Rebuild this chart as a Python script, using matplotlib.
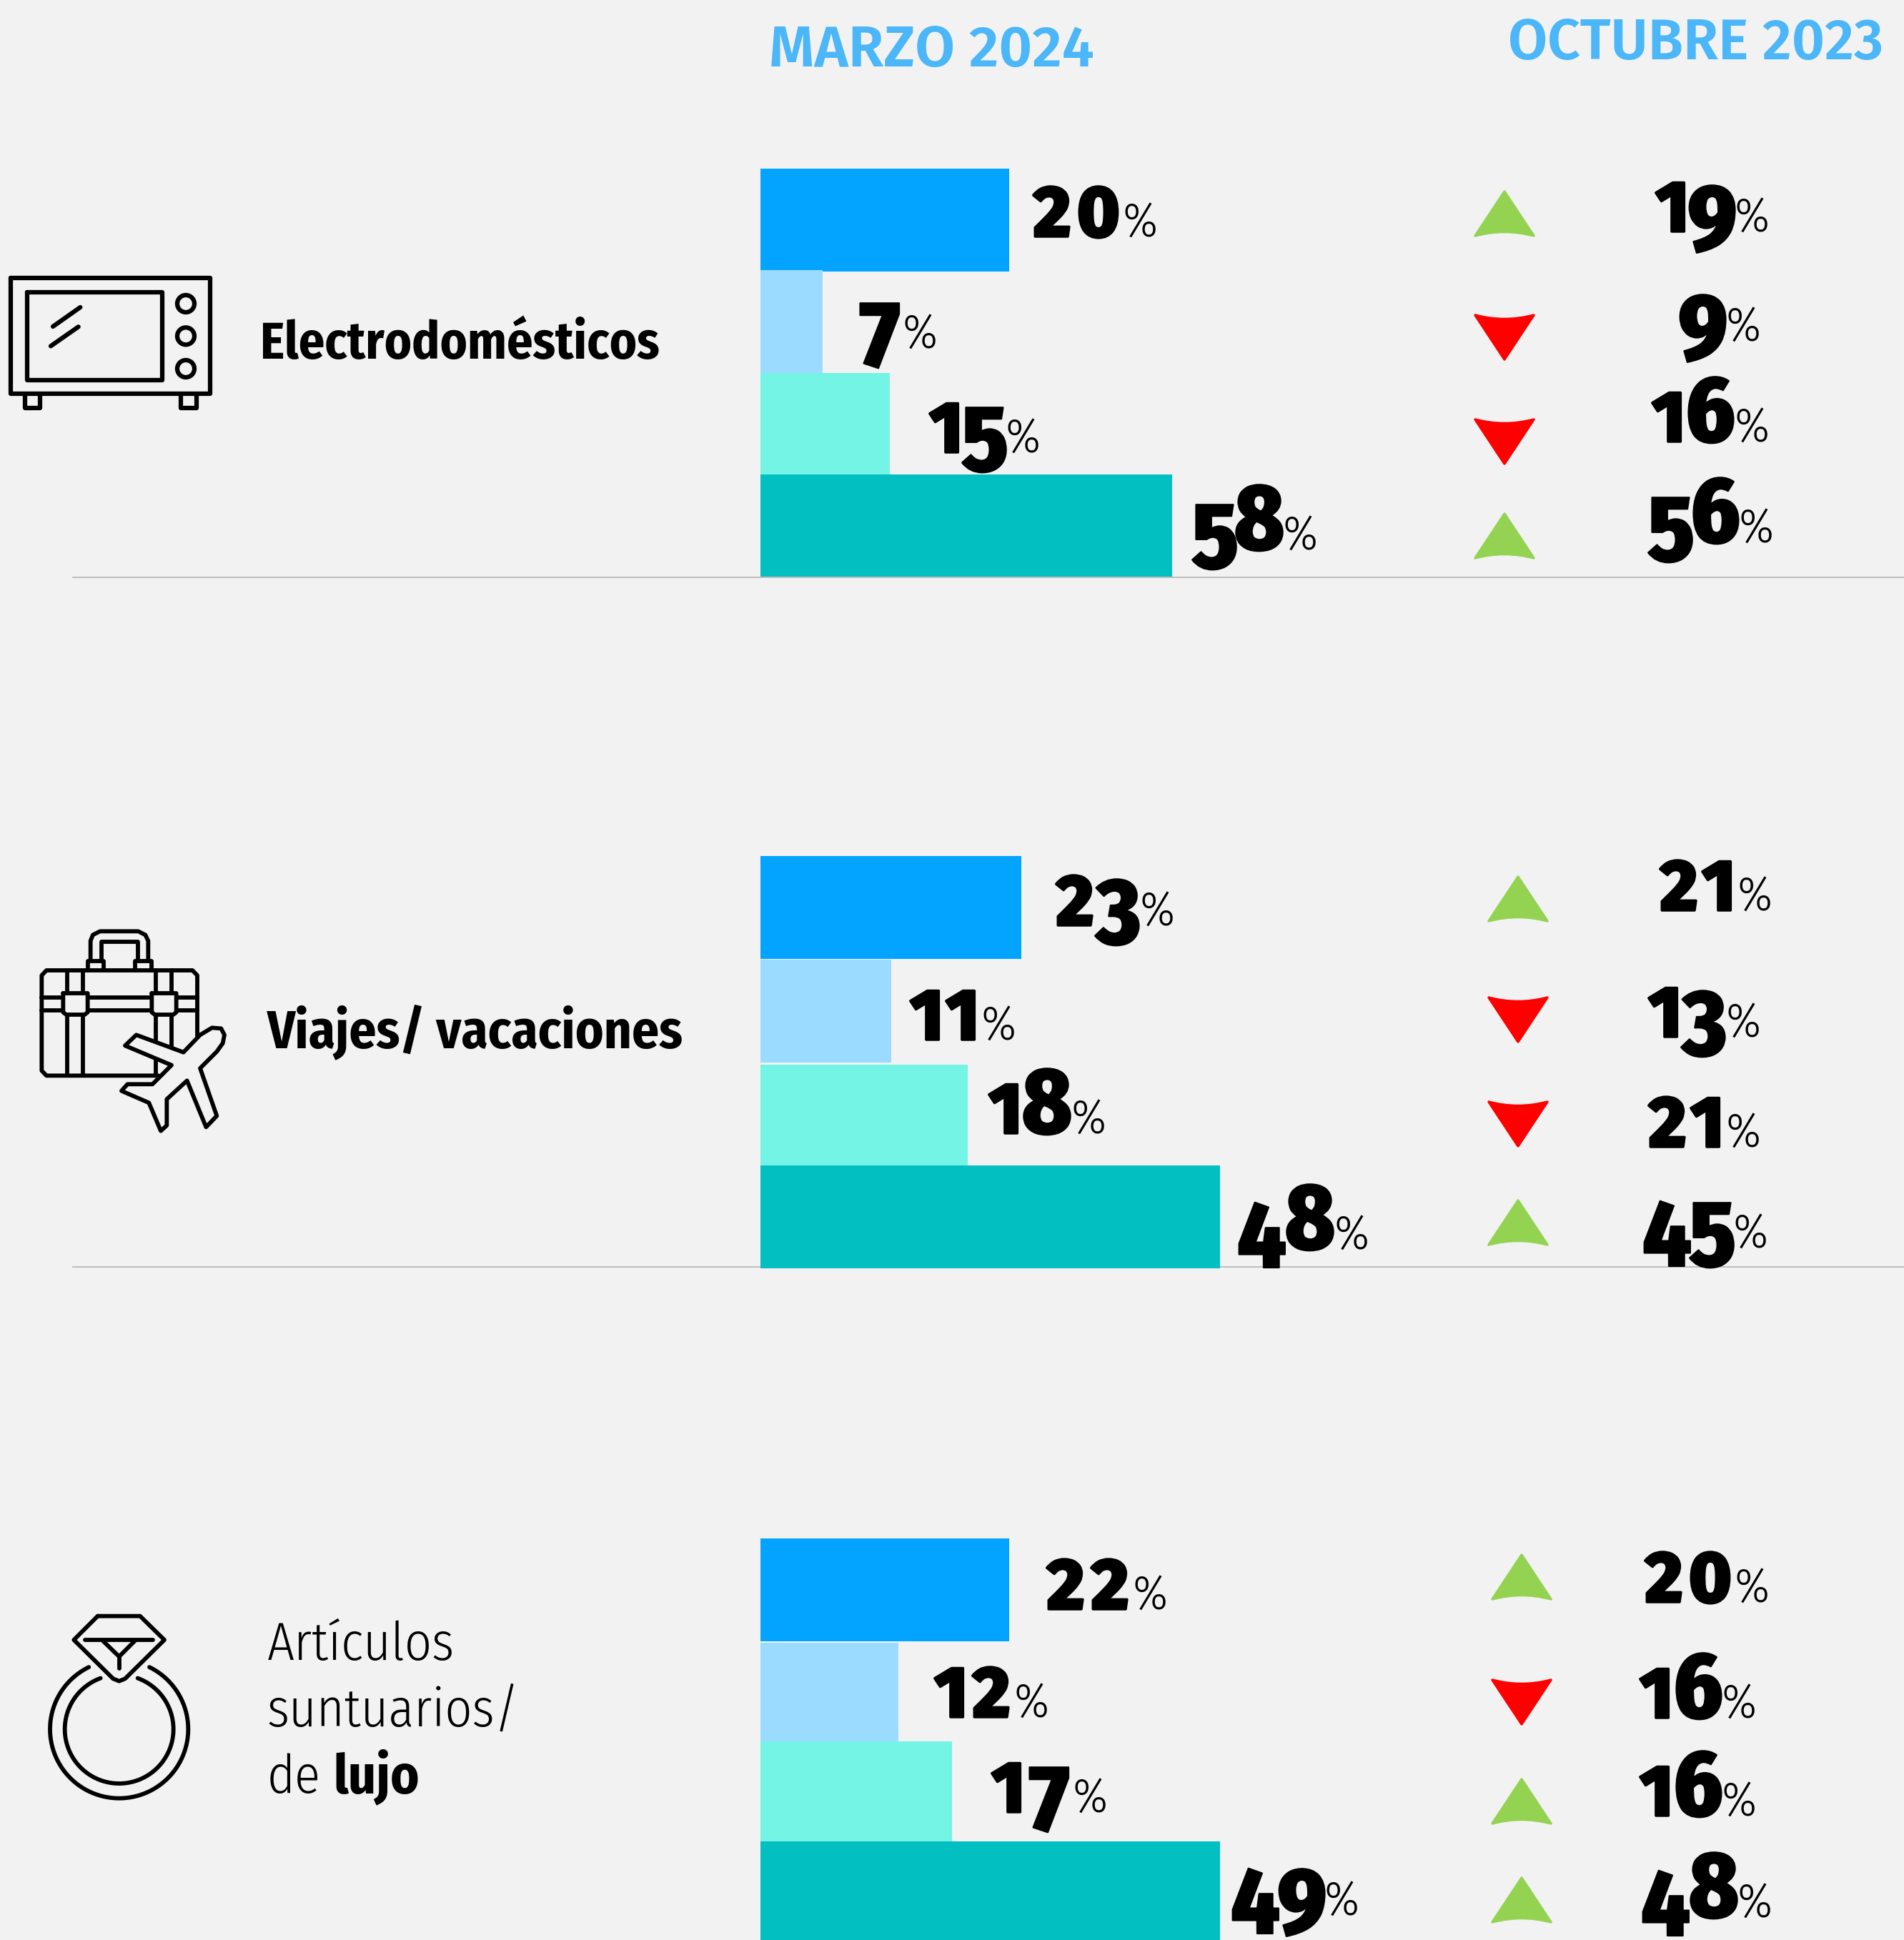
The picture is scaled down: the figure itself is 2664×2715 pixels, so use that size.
import numpy as np
import matplotlib
matplotlib.use('Agg')
import matplotlib.pyplot as plt
import matplotlib.patheffects as pe
import logging
from matplotlib.path import Path
from matplotlib.patches import PathPatch, Polygon, Circle

logging.getLogger('matplotlib.font_manager').setLevel(logging.ERROR)

# valores de las etiquetas (%)
marzo_1 = [20, 7, 15, 58]
octubre_1 = [19, 9, 16, 56]
marzo_2 = [23, 11, 18, 48]
octubre_2 = [21, 13, 21, 45]
marzo_3 = [22, 12, 17, 49]
octubre_3 = [20, 16, 16, 48]

# largo dibujado de cada barra: en el original no es proporcional a la etiqueta,
# asi que se lee aparte de la imagen (1 unidad = 10 px)
largo_1 = [34.8, 8.7, 18.1, 57.6]
largo_2 = [36.5, 18.3, 29.0, 64.3]
largo_3 = [34.8, 19.3, 26.8, 64.3]

COLORES = ['#03A4FF', '#9BDBFF', '#73F4E4', '#02BFC1']
FONDO = '#F2F2F2'
CELESTE = '#4BB6F8'
SUBE = '#94D352'
BAJA = '#FF0000'

# posiciones en px de la imagen
filas_1 = [(236, 380), (378, 522), (522, 664), (664, 807)]
filas_2 = [(1198, 1342), (1343, 1487), (1490, 1634), (1631, 1775)]
filas_3 = [(2153, 2297), (2299, 2443), (2437, 2577), (2577, 2715)]

x_marzo_1, base_marzo_1 = [1441, 1199, 1299, 1671], [331, 487, 633, 769]
x_octubre_1, base_octubre_1 = [2315, 2352, 2310, 2309], [324, 477, 618, 759]
x_marzo_2, base_marzo_2 = [1473, 1272, 1382, 1731], [1295, 1455, 1586, 1748]
x_octubre_2, base_octubre_2 = [2318, 2305, 2302, 2298], [1274, 1451, 1605, 1746]
x_marzo_3, base_marzo_3 = [1460, 1306, 1386, 1722], [2252, 2403, 2536, 2680]
x_octubre_3, base_octubre_3 = [2297, 2293, 2293, 2296], [2242, 2404, 2541, 2683]

cx_flecha = [2105, 2124, 2129]
y_flecha_1 = [268, 441, 587, 719]
y_flecha_2 = [1227, 1396, 1542, 1680]
y_flecha_3 = [2176, 2351, 2490, 2628]

ANGOSTA = ['Fira Sans Condensed', 'Lato']
ANCHA = ['Fira Sans', 'Lato']

# avance de cada cifra en px
AVANCE = {'0': 68, '1': 50, '2': 62, '3': 60, '4': 69, '5': 58, '6': 66, '7': 64, '8': 66, '9': 62}


fig = plt.figure(figsize=(26.64, 27.15), dpi=100, facecolor=FONDO)

lienzo = fig.add_axes([0, 0, 1, 1], zorder=1)
lienzo.set_xlim(0, 2664)
lienzo.set_ylim(2715, 0)
lienzo.axis('off')

barras = fig.add_axes([0, 0, 1, 1], zorder=2)
barras.set_xlim(-106.4, 160)
barras.set_ylim(2715, 0)
barras.axis('off')
barras.patch.set_alpha(0)

encima = fig.add_axes([0, 0, 1, 1], zorder=3)
encima.set_xlim(0, 2664)
encima.set_ylim(2715, 0)
encima.axis('off')
encima.patch.set_alpha(0)


def px(n):
    return n * 0.72


def numero(x, base, valor):
    # cifras elzevirianas: 0 1 2 bajas, 6 8 altas, el resto cuelga de la linea
    for c in str(valor):
        centro = x + AVANCE[c] / 2
        if c in '012':
            t = encima.text(centro, base, c, ha='center', va='baseline', fontsize=px(101),
                            family=ANCHA, weight=800, color='black')
            t.set_path_effects([pe.withStroke(linewidth=2.5, foreground='black')])
        else:
            y = base if c in '68' else base + 26
            t = encima.text(centro, y, c, ha='center', va='baseline', fontsize=px(131),
                            family=ANGOSTA, weight=800, color='black')
            t.set_path_effects([pe.withStroke(linewidth=1.5, foreground='black')])
        x += AVANCE[c]
    encima.text(x, base, '%', ha='left', va='baseline', fontsize=px(68),
                family=ANGOSTA, weight=300, color='black')


def flecha(cx, arriba, sube):
    ancho, alto = 41, 62
    if sube:
        y0, y1, ctrl = arriba, arriba + alto, arriba + alto - 11
        color = SUBE
    else:
        y0, y1, ctrl = arriba + alto, arriba, arriba + 11
        color = BAJA
    vertices = [(cx, y0), (cx + ancho, y1), (cx, ctrl), (cx - ancho, y1), (cx, y0)]
    codigos = [Path.MOVETO, Path.LINETO, Path.CURVE3, Path.CURVE3, Path.CLOSEPOLY]
    encima.add_patch(PathPatch(Path(vertices, codigos), facecolor=color, edgecolor=color,
                               lw=2.5, joinstyle='round'))


def linea(ox, oy, puntos, lw=4.5):
    # puntos en px de los recortes a 3x
    puntos = np.array(puntos, dtype=float)
    lienzo.plot(ox + puntos[:, 0] / 3, oy + puntos[:, 1] / 3, color='black', lw=lw,
                solid_capstyle='round', solid_joinstyle='round', zorder=5)


def grupo(filas, largos, marzo, octubre, x_m, base_m, x_o, base_o, cx, y_f):
    for i in range(4):
        arriba, abajo = filas[i]
        barras.barh((arriba + abajo) / 2, largos[i], height=abajo - arriba,
                    color=COLORES[i], linewidth=0, zorder=i)
        numero(x_m[i], base_m[i], marzo[i])
        numero(x_o[i], base_o[i], octubre[i])
        flecha(cx, y_f[i], marzo[i] > octubre[i])


grupo(filas_1, largo_1, marzo_1, octubre_1, x_marzo_1, base_marzo_1, x_octubre_1, base_octubre_1, cx_flecha[0], y_flecha_1)
grupo(filas_2, largo_2, marzo_2, octubre_2, x_marzo_2, base_marzo_2, x_octubre_2, base_octubre_2, cx_flecha[1], y_flecha_2)
grupo(filas_3, largo_3, marzo_3, octubre_3, x_marzo_3, base_marzo_3, x_octubre_3, base_octubre_3, cx_flecha[2], y_flecha_3)

# separadores
lienzo.plot([102, 2664], [807.5, 807.5], color='#BDBDBD', lw=1.4)
lienzo.plot([102, 2664], [1773, 1773], color='#BDBDBD', lw=1.4)

# encabezados
encima.text(1076, 93, 'MARZO 2024', fontsize=px(81), family=ANCHA, weight=600, color=CELESTE, va='baseline')
encima.text(2110, 83, 'OCTUBRE 2023', fontsize=px(80), family=ANCHA, weight=600, color=CELESTE, va='baseline')

# categorias
encima.text(364, 502, 'Electrodomésticos', fontsize=px(72), family=ANGOSTA, weight='bold', va='baseline')
encima.text(374, 1466, 'Viajes/ vacaciones', fontsize=px(75), family=ANGOSTA, weight='bold', va='baseline')
encima.text(374, 2323, 'Artículos', fontsize=px(74), family=ANGOSTA, weight=300, va='baseline')
encima.text(374, 2416, 'suntuarios/', fontsize=px(74), family=ANGOSTA, weight=300, va='baseline')
encima.text(374, 2509, 'de', fontsize=px(74), family=ANGOSTA, weight=300, va='baseline')
encima.text(466, 2509, 'lujo', fontsize=px(76), family=ANGOSTA, weight='bold', va='baseline')

# icono horno
ox, oy = 0, 350
linea(ox, oy, [(45, 118), (883, 118), (883, 604), (45, 604), (45, 118)])
linea(ox, oy, [(113, 176), (681, 176), (681, 546), (113, 546), (113, 176)])
linea(ox, oy, [(222, 321), (337, 240)])
linea(ox, oy, [(213, 403), (329, 322)])
linea(ox, oy, [(104, 604), (104, 663), (168, 663), (168, 604)])
linea(ox, oy, [(760, 604), (760, 663), (824, 663), (824, 604)])
for yc in [225, 361, 498]:
    lienzo.add_patch(Circle((ox + 780 / 3, oy + yc / 3), 12, fill=False, ec='black', lw=4.5, zorder=5))

# icono maletin
ox, oy = 30, 1280
linea(ox, oy, [(738, 510), (738, 255), (718, 234), (105, 234), (85, 255), (85, 655), (105, 676), (575, 676)], lw=4.2)
for xs in [193, 258]:
    linea(ox, oy, [(xs, 234), (xs, 330)], lw=4.2)
    linea(ox, oy, [(xs, 420), (xs, 676)], lw=4.2)
for xs, fin in [(565, 676), (630, 560)]:
    linea(ox, oy, [(xs, 234), (xs, 330)], lw=4.2)
    linea(ox, oy, [(xs, 420), (xs, fin)], lw=4.2)
for ys in [349, 402]:
    linea(ox, oy, [(85, ys), (175, ys)], lw=4.2)
    linea(ox, oy, [(278, ys), (545, ys)], lw=4.2)
    linea(ox, oy, [(650, ys), (738, ys)], lw=4.2)
linea(ox, oy, [(175, 330), (278, 330), (278, 410), (265, 420), (188, 420), (175, 410), (175, 330)], lw=4.2)
linea(ox, oy, [(547, 330), (650, 330), (650, 410), (637, 420), (560, 420), (547, 410), (547, 330)], lw=4.2)
linea(ox, oy, [(290, 195), (290, 110), (300, 85), (330, 70), (490, 70), (520, 85), (532, 110), (532, 195)], lw=4.2)
linea(ox, oy, [(335, 195), (335, 113), (490, 113), (490, 195)], lw=4.2)
linea(ox, oy, [(345, 234), (345, 195), (278, 195), (278, 234)], lw=4.2)
linea(ox, oy, [(545, 234), (545, 195), (478, 195), (478, 234)], lw=4.2)
avion = [(680, 578), (750, 505), (800, 475), (838, 478), (852, 505), (845, 540), (820, 575),
         (750, 645), (820, 845), (775, 892), (695, 697), (610, 775), (610, 885), (585, 908),
         (535, 790), (420, 740), (445, 712), (550, 712), (630, 632), (435, 550), (482, 505), (680, 578)]
avion_px = [(ox + a / 3, oy + b / 3) for a, b in avion]
lienzo.add_patch(Polygon(avion_px, closed=True, fc=FONDO, ec='black', lw=4.2, joinstyle='round', zorder=6))

# icono anillo
ox, oy = 40, 2240
linea(ox, oy, [(290, 65), (468, 65), (570, 165), (405, 328), (380, 338), (355, 328), (190, 165), (290, 65)], lw=4.2)
linea(ox, oy, [(238, 165), (522, 165)], lw=4.2)
linea(ox, oy, [(313, 170), (380, 235), (445, 170)], lw=4.2)
linea(ox, oy, [(380, 235), (380, 285)], lw=4.2)
for r, gap, cy in [(290, 26, 540), (228, 20, 540)]:
    ang = np.radians(np.linspace(-90 + gap, 270 - gap, 200))
    linea(ox, oy, np.column_stack([380 + r * np.cos(ang), cy + r * np.sin(ang)]), lw=4.2)

fig.savefig('out.png', dpi=100, facecolor=FONDO)
